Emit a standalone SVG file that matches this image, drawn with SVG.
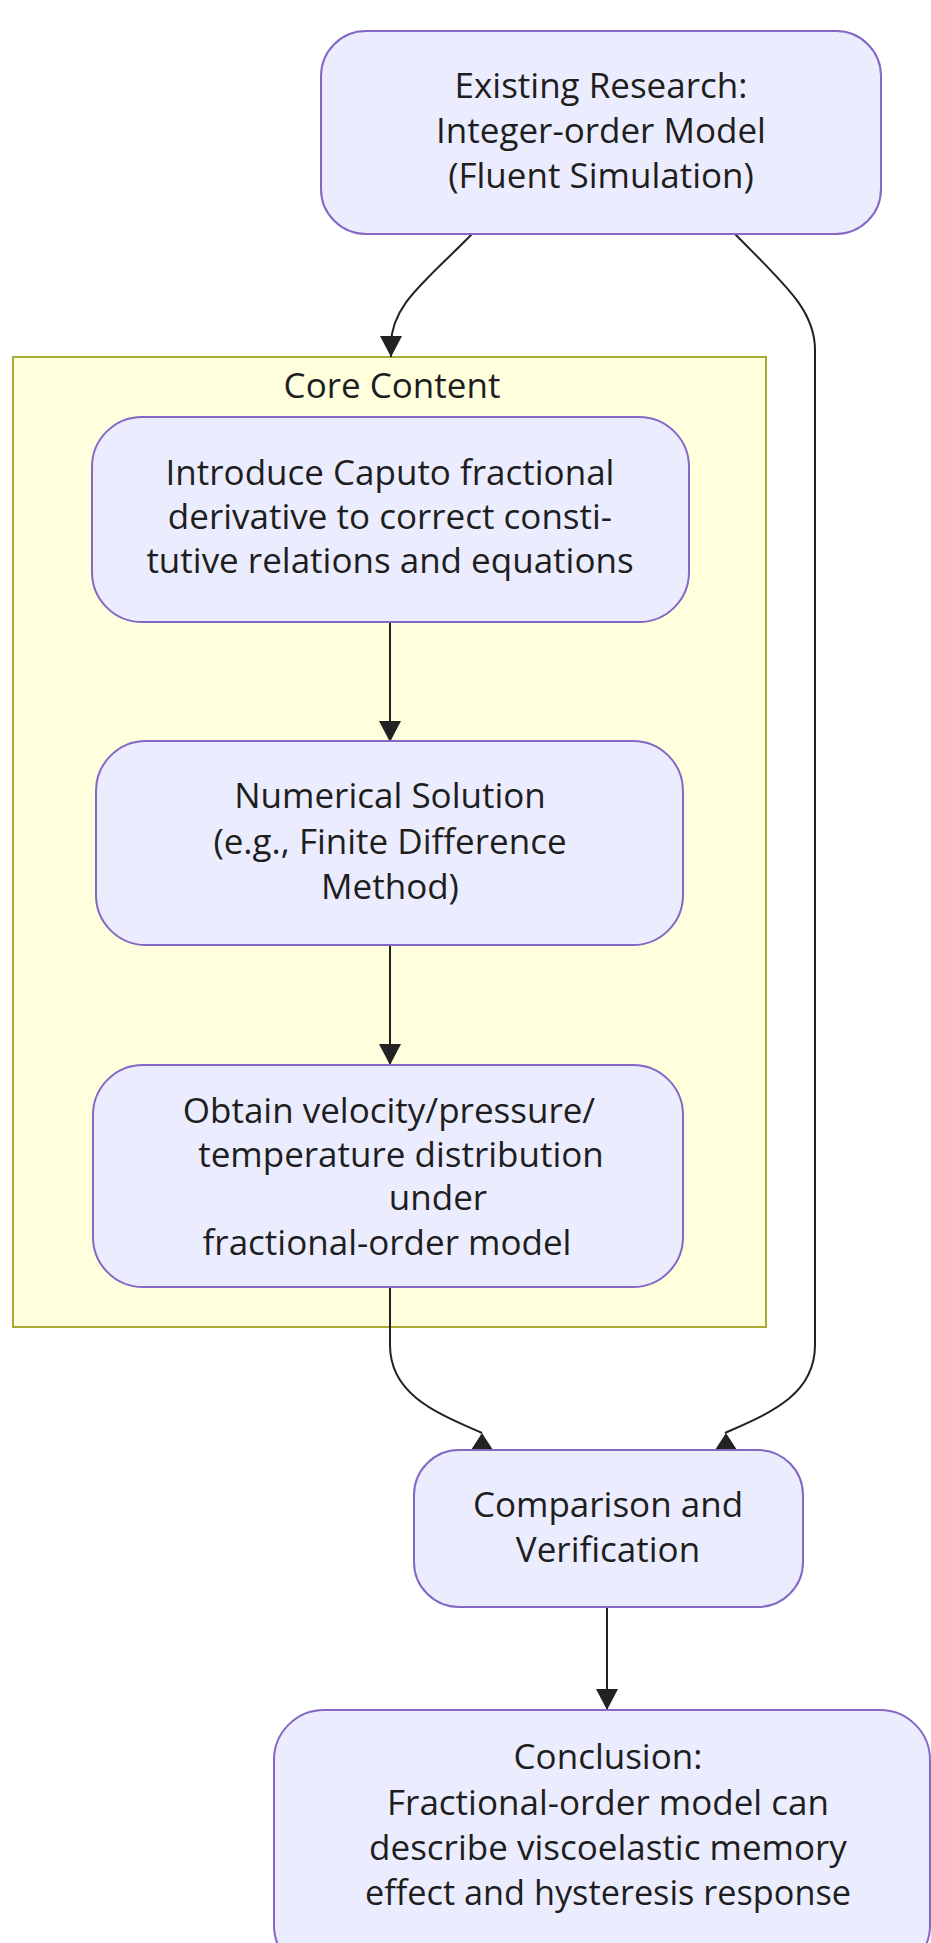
<svg xmlns="http://www.w3.org/2000/svg" width="931" height="1943" viewBox="0 0 931 1943">
<defs>
<style>
.node rect{fill:#ECECFF;stroke:#8468c4;stroke-width:2}
.cluster rect{fill:#FFFFDE;stroke:#AAAA33;stroke-width:2}
text{font-family:"Open Sans","Noto Sans","DejaVu Sans",sans-serif;font-size:35px;fill:#1e1e1e;text-anchor:middle}
.edge{fill:none;stroke:#222;stroke-width:2}
.tri{fill:#222}
</style>
<marker id="arrow" markerUnits="userSpaceOnUse" markerWidth="22" markerHeight="22" refX="20" refY="10.5" orient="auto" viewBox="0 0 21 21">
<path d="M0,0 L20,10.5 L0,21 z" fill="#222"/>
</marker>
<path id="up" d="M0,-17 L11,0 L-11,0 z"/>
</defs>
<rect width="931" height="1943" fill="#ffffff"/>
<g id="cluster-core" class="cluster">
<rect x="13" y="357" width="753" height="970"/>
<text x="392" y="398">Core Content</text>
</g>
<g id="connectors">
<path class="edge" d="M472,234 C425,282 391,305 391,345 L391,357" marker-end="url(#arrow)"/>
<path class="edge" d="M735,234 C785,285 815,310 815,350 L815,1345 C815,1395 770,1413 725,1433"/>
<path class="edge" d="M390,622 L390,742" marker-end="url(#arrow)"/>
<path class="edge" d="M390,945 L390,1065" marker-end="url(#arrow)"/>
<path class="edge" d="M390,1287 L390,1345 C390,1395 437,1413 482,1433"/>
<path class="edge" d="M607,1607 L607,1710" marker-end="url(#arrow)"/>
<use href="#up" class="tri" x="482" y="1450"/>
<use href="#up" class="tri" x="726" y="1450"/>
</g>
<g id="node-existing" class="node">
<rect x="321" y="31" width="560" height="203" rx="45" ry="45"/>
<text x="601" y="98">Existing Research:</text>
<text x="601" y="143">Integer-order Model</text>
<text x="601" y="188">(Fluent Simulation)</text>
</g>
<g id="node-caputo" class="node">
<rect x="92" y="417" width="597" height="205" rx="50" ry="50"/>
<text x="390" y="485">Introduce Caputo fractional</text>
<text x="390" y="529">derivative to correct consti-</text>
<text x="390" y="573">tutive relations and equations</text>
</g>
<g id="node-numerical" class="node">
<rect x="96" y="741" width="587" height="204" rx="50" ry="50"/>
<text x="390" y="808">Numerical Solution</text>
<text x="390" y="854">(e.g., Finite Difference</text>
<text x="390" y="899">Method)</text>
</g>
<g id="node-obtain" class="node">
<rect x="93" y="1065" width="590" height="222" rx="50" ry="50"/>
<text x="389" y="1123">Obtain velocity/pressure/</text>
<text x="401" y="1167">temperature distribution</text>
<text x="438" y="1210">under</text>
<text x="387" y="1255">fractional-order model</text>
</g>
<g id="node-comparison" class="node">
<rect x="414" y="1450" width="389" height="157" rx="45" ry="45"/>
<text x="608" y="1517">Comparison and</text>
<text x="608" y="1562">Verification</text>
</g>
<g id="node-conclusion" class="node">
<rect x="274" y="1710" width="656" height="265" rx="50" ry="50"/>
<text x="608" y="1769">Conclusion:</text>
<text x="608" y="1815">Fractional-order model can</text>
<text x="608" y="1860">describe viscoelastic memory</text>
<text x="608" y="1905" textLength="486" lengthAdjust="spacingAndGlyphs">effect and hysteresis response</text>
</g>
</svg>
